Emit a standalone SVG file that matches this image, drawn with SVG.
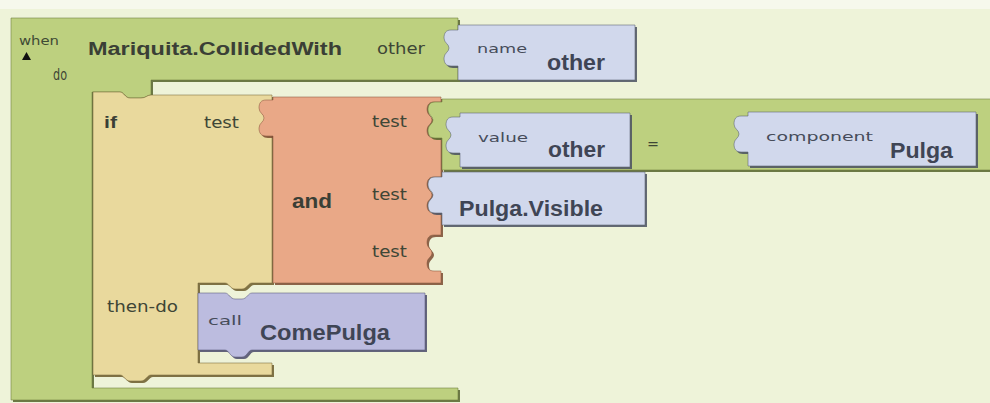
<svg xmlns="http://www.w3.org/2000/svg" xmlns:xlink="http://www.w3.org/1999/xlink" width="990" height="403" viewBox="0 0 990 403">
<style>
.lbl{font-family:"DejaVu Sans","Liberation Sans",sans-serif;font-size:15px;fill:#3e4636}
.sm{font-family:"DejaVu Sans","Liberation Sans",sans-serif;font-size:13px;fill:#464c5a}
.bd{font-family:"Liberation Sans",Arial,sans-serif;font-weight:bold;fill:#3a3f36}
.bb{font-family:"Liberation Sans",Arial,sans-serif;font-weight:bold;fill:#3f4555}
.sh{opacity:0.85}
.edge{stroke-width:1;stroke-opacity:0.55}
</style>
<defs>
<path id="p-when" d="M11,18 H458 V80 H151 V95 C147,95 146,98 141,98 H130 C125,98 124,92 120,92 H92 V388 H458 V400 H11 Z"/>
<path id="p-if" d="M93,92 H120 C124,92 125,98 130,98 H141 C146,98 147,95 151,95 H272 V283 H252 C248,283 247,289 242,289 H235 C230,289 229,283 225,283 H198 V363 H272 V375 H151 C147,375 146,381 141,381 H130 C125,381 124,375 120,375 H93 Z"/>
<path id="p-and" d="M273,97 H441 V102 H434 C429,102 427,105 427,110 C427,115 432,116 432,120 C432,124 427,125 427,130 C427,135 429,138 434,138 H441 V177 H434 C429,177 427,180 427,185 C427,190 432,191 432,195 C432,199 427,200 427,205 C427,210 429,213 434,213 H441 V235 H434 C429,235 427,238 427,243 C427,248 432,249 432,253 C432,257 427,258 427,263 C427,268 429,271 434,271 H441 V283 H273 V136 H266 C261,136 259,133 259,128 C259,123 264,122 264,118 C264,114 259,113 259,108 C259,103 261,100 266,100 H273 Z"/>
<path id="p-eq" d="M442,99 H998 V170 H442 V138 H435 C430,138 428,135 428,130 C428,125 433,124 433,120 C433,116 428,115 428,110 C428,105 430,102 435,102 H442 Z"/>
<path id="p-name" d="M458,25 H635 V80 H458 V66 H451 C446,66 444,63 444,58 C444,53 449,52 449,48 C449,44 444,43 444,38 C444,33 446,30 451,30 H458 Z"/>
<path id="p-value" d="M460,113 H630 V167 H460 V153 H453 C448,153 446,150 446,145 C446,140 451,139 451,135 C451,131 446,130 446,125 C446,120 448,117 453,117 H460 Z"/>
<path id="p-comp" d="M748,112 H976 V166 H748 V152 H741 C736,152 734,149 734,144 C734,139 739,138 739,134 C739,130 734,129 734,124 C734,119 736,116 741,116 H748 Z"/>
<path id="p-vis" d="M442,172 H645 V225 H442 V213 H435 C430,213 428,210 428,205 C428,200 433,199 433,195 C433,191 428,190 428,185 C428,180 430,177 435,177 H442 Z"/>
<path id="p-call" d="M198,293 H225 C229,293 230,299 235,299 H242 C247,299 248,293 252,293 H425 V350 H252 C248,350 247,357 242,357 H235 C230,357 229,350 225,350 H198 Z"/>
</defs>
<rect x="0" y="0" width="990" height="403" fill="#eef3d9"/>
<rect x="0" y="0" width="990" height="9" fill="#f6f8ec"/>

<g id="when-block">
<use xlink:href="#p-when" transform="translate(2,2)" fill="#55632c" class="sh"/>
<use xlink:href="#p-when" fill="#bdd07f" stroke="#6b7a3a" class="edge"/>
<text x="19" y="45" class="sm" font-size="12" style="fill:#3f4a35" textLength="40" lengthAdjust="spacingAndGlyphs">when</text>
<polygon points="22,60 31,60 26.5,52" fill="#111"/>
<text x="88" y="55" class="bd" font-size="18" textLength="254" lengthAdjust="spacingAndGlyphs">Mariquita.CollidedWith</text>
<text x="377" y="54" class="lbl" textLength="48" lengthAdjust="spacingAndGlyphs">other</text>
<text x="53" y="80" class="lbl" textLength="14" lengthAdjust="spacingAndGlyphs">do</text>
</g>

<g id="name-block">
<use xlink:href="#p-name" transform="translate(2,2)" fill="#4a5060" class="sh"/>
<use xlink:href="#p-name" fill="#d1d8ec" stroke="#5a6070" class="edge"/>
<text x="477" y="53" class="sm" textLength="50" lengthAdjust="spacingAndGlyphs">name</text>
<text x="547" y="70" class="bb" font-size="22" textLength="58" lengthAdjust="spacingAndGlyphs">other</text>
</g>

<g id="if-block">
<use xlink:href="#p-if" transform="translate(2,2)" fill="#6b5a2a" class="sh"/>
<use xlink:href="#p-if" fill="#e9d99d" stroke="#7a6a3a" class="edge"/>
<text x="104" y="128" class="bd" font-size="17" textLength="13" lengthAdjust="spacingAndGlyphs">if</text>
<text x="204" y="128" class="lbl" textLength="35" lengthAdjust="spacingAndGlyphs">test</text>
<text x="107" y="312" class="lbl" textLength="71" lengthAdjust="spacingAndGlyphs">then-do</text>
</g>

<g id="and-block">
<use xlink:href="#p-and" transform="translate(2,2)" fill="#7a4a30" class="sh"/>
<use xlink:href="#p-and" fill="#e9a887" stroke="#8a5a40" class="edge"/>
<text x="292" y="208" class="bd" font-size="20" textLength="40" lengthAdjust="spacingAndGlyphs">and</text>
<text x="372" y="127" class="lbl" textLength="35" lengthAdjust="spacingAndGlyphs">test</text>
<text x="372" y="200" class="lbl" textLength="35" lengthAdjust="spacingAndGlyphs">test</text>
<text x="372" y="257" class="lbl" textLength="35" lengthAdjust="spacingAndGlyphs">test</text>
</g>

<g id="equals-block">
<use xlink:href="#p-eq" transform="translate(2,2)" fill="#55632c" class="sh"/>
<use xlink:href="#p-eq" fill="#bdd07f" stroke="#6b7a3a" class="edge"/>
<text x="647" y="149" class="lbl" font-size="17" textLength="12" lengthAdjust="spacingAndGlyphs">=</text>
</g>

<g id="value-block">
<use xlink:href="#p-value" transform="translate(2,2)" fill="#4a5060" class="sh"/>
<use xlink:href="#p-value" fill="#d1d8ec" stroke="#5a6070" class="edge"/>
<text x="478" y="142" class="sm" textLength="50" lengthAdjust="spacingAndGlyphs">value</text>
<text x="548" y="157" class="bb" font-size="22" textLength="57" lengthAdjust="spacingAndGlyphs">other</text>
</g>

<g id="component-block">
<use xlink:href="#p-comp" transform="translate(2,2)" fill="#4a5060" class="sh"/>
<use xlink:href="#p-comp" fill="#d1d8ec" stroke="#5a6070" class="edge"/>
<text x="766" y="141" class="sm" textLength="107" lengthAdjust="spacingAndGlyphs">component</text>
<text x="890" y="158" class="bb" font-size="22" textLength="63" lengthAdjust="spacingAndGlyphs">Pulga</text>
</g>

<g id="visible-block">
<use xlink:href="#p-vis" transform="translate(2,2)" fill="#4a5060" class="sh"/>
<use xlink:href="#p-vis" fill="#d1d8ec" stroke="#5a6070" class="edge"/>
<text x="459" y="216" class="bb" font-size="22" textLength="144" lengthAdjust="spacingAndGlyphs">Pulga.Visible</text>
</g>

<g id="call-block">
<use xlink:href="#p-call" transform="translate(2,2)" fill="#4a4a6a" class="sh"/>
<use xlink:href="#p-call" fill="#bcbcdf" stroke="#5a5a7a" class="edge"/>
<text x="208" y="325" class="sm" textLength="34" lengthAdjust="spacingAndGlyphs">call</text>
<text x="260" y="340" class="bb" font-size="22" textLength="130" lengthAdjust="spacingAndGlyphs">ComePulga</text>
</g>

<g id="connectors"></g>
</svg>
